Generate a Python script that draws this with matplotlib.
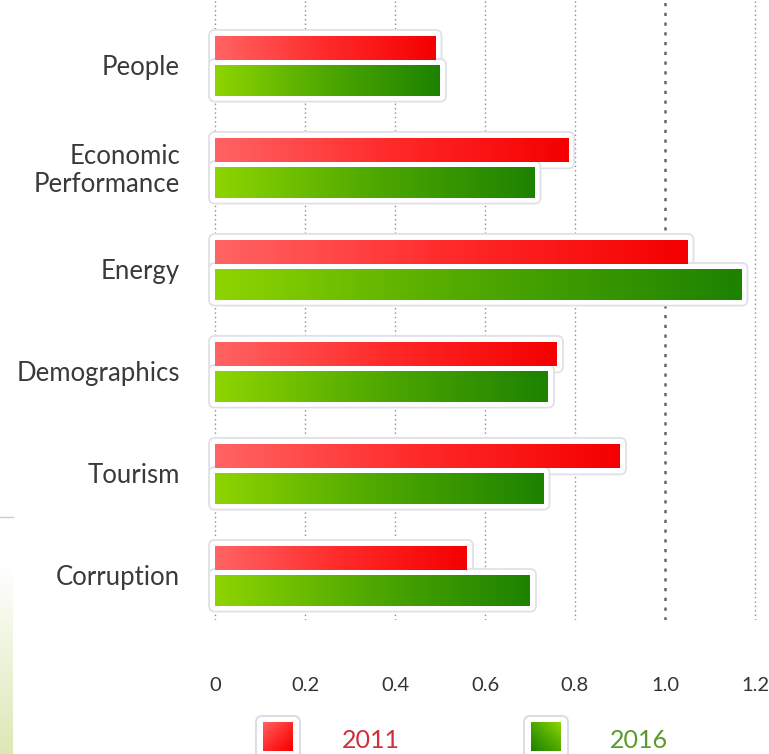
import numpy as np
import matplotlib.pyplot as plt
from matplotlib.patches import FancyBboxPatch
from matplotlib.colors import LinearSegmentedColormap

plt.rcParams['font.family'] = ['Lato', 'DejaVu Sans']

categories = ['People', 'Economic\nPerformance', 'Energy', 'Demographics', 'Tourism', 'Corruption']
values_2011 = [0.49, 0.785, 1.05, 0.76, 0.90, 0.56]
values_2016 = [0.50, 0.71, 1.17, 0.74, 0.73, 0.70]
xticks = [0, 0.2, 0.4, 0.6, 0.8, 1.0, 1.2]
xtick_labels = ['0', '0.2', '0.4', '0.6', '0.8', '1.0', '1.2']

W, H = 769, 754
fig = plt.figure(figsize=(W / 100, H / 100), dpi=100)

# axes placed in pixel units: x from 205 to 765, y from 0 to 620 (top-down)
ax = fig.add_axes([205 / W, 1 - 620 / H, 560 / W, 620 / H])
px = 449.5   # pixels per x unit
py = 102.0   # pixels per category
xlim = (-10 / px, 1.2 + 10 / px)
ylim = (5 + 45 / py, -65 / py)

red_cmap = LinearSegmentedColormap.from_list('red', ['#ff6464', '#ff2a2a', '#f50000'])
green_cmap = LinearSegmentedColormap.from_list('green', ['#8ed400', '#4ea800', '#1d8200'])

# dotted grid
for t in xticks:
    if t == 1.0:
        ax.axvline(t, color='#666666', lw=1.8, ls=(0, (1.3, 2.6)), zorder=0)
    else:
        ax.axvline(t, color='#8a8a8a', lw=1.0, ls=(0, (1, 2.2)), zorder=0)

y = np.arange(len(categories))
red_bars = ax.barh(y - 0.165, values_2011, height=0.24, color='none', zorder=3)
green_bars = ax.barh(y + 0.15, values_2016, height=0.3, color='none', zorder=3)

grad = np.linspace(0, 1, 256).reshape(1, -1)
pad = 6 / px
for k, (bars, cmap) in enumerate([(red_bars, red_cmap), (green_bars, green_cmap)]):
    for b in bars:
        x0, y0 = b.get_x(), b.get_y()
        w, h = b.get_width(), b.get_height()
        # white frame with soft grey edge
        frame = FancyBboxPatch((x0, y0), w, h,
                               boxstyle=f'round,pad={pad},rounding_size={pad}',
                               mutation_aspect=px / py,
                               facecolor='white', edgecolor='#e0e0ea', lw=1.3,
                               zorder=2 + k * 0.1)
        ax.add_patch(frame)
        im = ax.imshow(grad, cmap=cmap, aspect='auto',
                       extent=(x0, x0 + w, y0 + h, y0), zorder=3)
        im.set_clip_path(b)

ax.set_xlim(*xlim)
ax.set_ylim(*ylim)

ax.set_yticks(y)
ax.set_yticklabels(categories, fontsize=18.5, color='#3a3a3a', linespacing=1.15)
ax.set_xticks(xticks)
ax.set_xticklabels(xtick_labels, fontsize=14.5, color='#333333')
ax.tick_params(axis='y', length=0, pad=18)
ax.tick_params(axis='x', length=0, pad=41)
for s in ax.spines.values():
    s.set_visible(False)
ax.set_facecolor('none')


def legend_item(x, cmap, label, color, flip):
    box = FancyBboxPatch((x / W, 1 - 760 / H), 44 / W, 44 / H,
                         boxstyle='round,pad=0,rounding_size=0.008',
                         transform=fig.transFigure, facecolor='white',
                         edgecolor='#dadae6', lw=1.3, zorder=-1)
    fig.add_artist(box)
    sq = np.linspace(0, 1, 64)
    g = (sq[None, :] + sq[:, None]) / 2
    if flip:
        g = g[:, ::-1]
    lax = fig.add_axes([(x + 7) / W, 1 - 751 / H, 30 / W, 29 / H], zorder=5)
    lax.imshow(g, cmap=cmap, aspect='auto')
    lax.axis('off')
    fig.text((x + 86) / W, 1 - 741 / H, label, fontsize=18, color=color,
             ha='left', va='center')


legend_item(256, red_cmap, '2011', '#cf2f3a', False)
legend_item(524, green_cmap, '2016', '#5b9a2a', True)

# faint side decoration
fig.add_artist(plt.Line2D([0, 13 / W], [1 - 517 / H, 1 - 517 / H],
                          transform=fig.transFigure, color='#cccccc', lw=1))
side = fig.add_axes([0, 0, 13 / W, (754 - 565) / H])
side.imshow(np.linspace(0, 1, 64).reshape(-1, 1), aspect='auto',
            cmap=LinearSegmentedColormap.from_list('side', ['#ffffff', '#dbe8b6']))
side.axis('off')

fig.savefig('out.png', dpi=100)
